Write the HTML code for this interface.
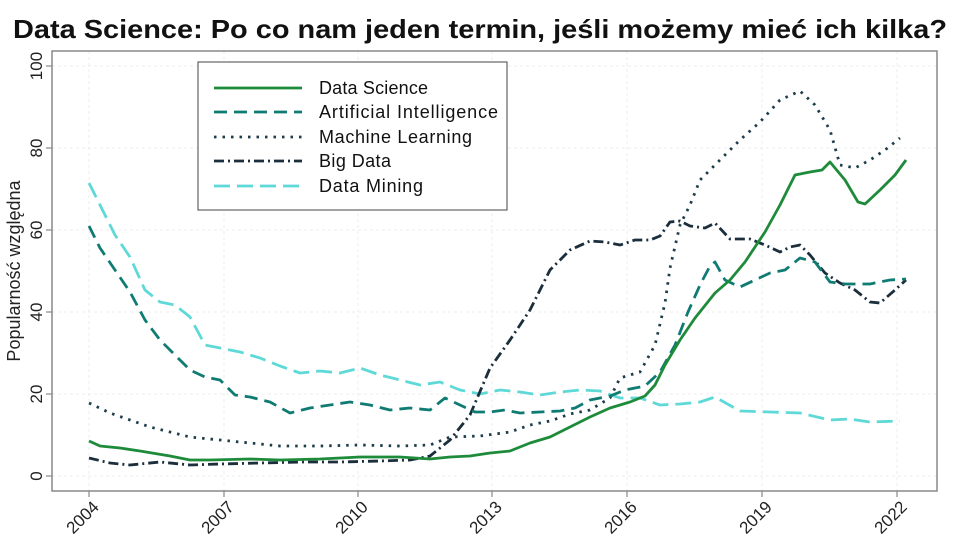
<!DOCTYPE html>
<html><head><meta charset="utf-8"><style>
body{margin:0;background:#fff;}
svg{display:block;font-family:"Liberation Sans",sans-serif;}
</style></head><body>
<svg width="959" height="548" viewBox="0 0 959 548">
<text x="13" y="38" font-size="26" font-weight="bold" fill="#111" textLength="934" lengthAdjust="spacingAndGlyphs">Data Science: Po co nam jeden termin, jeśli możemy mieć ich kilka?</text>
<g stroke="#ececec" stroke-dasharray="3,3" stroke-width="1">
<line x1="52" x2="937" y1="66" y2="66"/><line x1="52" x2="937" y1="148" y2="148"/><line x1="52" x2="937" y1="230" y2="230"/><line x1="52" x2="937" y1="312" y2="312"/><line x1="52" x2="937" y1="394" y2="394"/><line x1="52" x2="937" y1="476" y2="476"/>
<line x1="89" x2="89" y1="51" y2="491"/><line x1="224" x2="224" y1="51" y2="491"/><line x1="358" x2="358" y1="51" y2="491"/><line x1="492" x2="492" y1="51" y2="491"/><line x1="627" x2="627" y1="51" y2="491"/><line x1="762" x2="762" y1="51" y2="491"/><line x1="897" x2="897" y1="51" y2="491"/>
</g>
<rect x="52" y="51" width="885" height="440" fill="none" stroke="#888" stroke-width="1.5"/>
<g stroke="#888" stroke-width="1.2">
<line x1="46" x2="52" y1="66" y2="66"/><line x1="46" x2="52" y1="148" y2="148"/><line x1="46" x2="52" y1="230" y2="230"/><line x1="46" x2="52" y1="312" y2="312"/><line x1="46" x2="52" y1="394" y2="394"/><line x1="46" x2="52" y1="476" y2="476"/>
<line x1="89" x2="89" y1="491" y2="497"/><line x1="224" x2="224" y1="491" y2="497"/><line x1="358" x2="358" y1="491" y2="497"/><line x1="492" x2="492" y1="491" y2="497"/><line x1="627" x2="627" y1="491" y2="497"/><line x1="762" x2="762" y1="491" y2="497"/><line x1="897" x2="897" y1="491" y2="497"/>
</g>
<g font-size="17" fill="#222" text-anchor="middle">
<text transform="translate(42,66) rotate(-90)">100</text>
<text transform="translate(42,148) rotate(-90)">80</text>
<text transform="translate(42,230) rotate(-90)">60</text>
<text transform="translate(42,312) rotate(-90)">40</text>
<text transform="translate(42,394) rotate(-90)">20</text>
<text transform="translate(42,476) rotate(-90)">0</text>
</g>
<g font-size="17" fill="#222" text-anchor="end">
<text transform="translate(100,508) rotate(-45)">2004</text>
<text transform="translate(235,508) rotate(-45)">2007</text>
<text transform="translate(369,508) rotate(-45)">2010</text>
<text transform="translate(503,508) rotate(-45)">2013</text>
<text transform="translate(638,508) rotate(-45)">2016</text>
<text transform="translate(773,508) rotate(-45)">2019</text>
<text transform="translate(908,508) rotate(-45)">2022</text>
</g>
<text transform="translate(20,271) rotate(-90)" font-size="18" fill="#222" text-anchor="middle">Popularność względna</text>
<g fill="none" stroke-width="2.8" stroke-linejoin="round">
<polyline stroke="#5fd9d8" stroke-dasharray="16,7" points="89,183 100,205 115,235 130,257 145,290 160,302 175,305 190,317 205,345 220,348 240,352 260,358 280,366 300,373 320,371 340,373 360,368 380,375 400,380 420,385 440,382 460,390 480,394 500,390 520,392 540,395 560,392 580,390 600,391 620,398 640,398 660,405 680,404 700,402 715,397 740,411 770,412 800,413 830,420 850,419 870,422 900,421"/>
<polyline stroke="#1a2e3c" stroke-dasharray="10,4,2,4" points="89,458 110,463 130,465 160,462 190,465 220,464 260,463 300,462 340,462 380,461 410,460 430,456 450,440 470,415 490,368 510,340 530,310 550,270 570,250 590,241 605,242 620,245 635,240 650,240 660,236 670,222 680,221 690,226 705,228 715,223 730,239 750,239 765,245 780,252 790,247 800,245 810,255 825,273 840,283 855,290 870,302 880,303 895,290 906,280"/>
<polyline stroke="#1d3d4a" stroke-dasharray="2.5,6" points="89,403 110,413 130,420 150,427 170,432 190,437 220,440 250,443 280,446 320,446 360,445 400,446 430,445 450,437 480,436 510,432 530,425 550,421 570,414 590,410 610,398 620,378 640,372 655,345 665,303 670,268 680,225 690,205 700,180 720,160 740,140 760,122 780,100 800,91 815,105 830,130 840,165 855,168 870,160 885,150 900,138"/>
<polyline stroke="#0f7b73" stroke-dasharray="13,7" points="89,226 100,248 115,270 130,292 145,320 160,340 175,355 190,370 205,377 220,380 235,395 250,397 270,402 290,413 310,408 330,405 350,402 370,405 390,410 410,408 430,410 445,398 460,405 475,412 490,412 505,410 520,413 540,412 560,411 575,408 590,400 610,396 625,390 645,386 660,372 675,345 688,312 700,285 710,266 715,262 725,280 740,287 755,280 770,273 785,270 800,258 815,262 830,282 845,284 870,284 890,280 906,279"/>
<polyline stroke="#1e8b3a" points="89,441 100,446 120,448 140,451 170,456 190,460 210,460 250,459 280,460 320,459 360,457 400,457 430,459 450,457 470,456 490,453 510,451 530,443 550,437 570,427 590,417 610,408 630,402 645,396 655,385 665,365 680,340 695,318 715,293 730,280 745,262 765,232 780,205 795,175 810,172 822,170 830,162 845,180 858,202 865,204 880,190 895,175 906,160"/>
</g>
<rect x="198" y="62" width="309" height="148" fill="#fff" stroke="#444" stroke-width="1"/>
<g fill="none" stroke-width="2.8">
<line x1="214" x2="302" y1="88" y2="88" stroke="#1e8b3a"/>
<line x1="214" x2="302" y1="112" y2="112" stroke="#0f7b73" stroke-dasharray="13,7"/>
<line x1="214" x2="302" y1="137" y2="137" stroke="#1d3d4a" stroke-dasharray="2.5,6"/>
<line x1="214" x2="302" y1="161" y2="161" stroke="#1a2e3c" stroke-dasharray="10,4,2,4"/>
<line x1="214" x2="302" y1="186" y2="186" stroke="#5fd9d8" stroke-dasharray="16,7"/>
</g>
<g font-size="18" fill="#111" lengthAdjust="spacingAndGlyphs">
<text x="319" y="94" textLength="109">Data Science</text>
<text x="319" y="118" textLength="179">Artificial Intelligence</text>
<text x="319" y="143" textLength="153">Machine Learning</text>
<text x="319" y="167" textLength="72">Big Data</text>
<text x="319" y="192" textLength="104">Data Mining</text>
</g>
</svg>
</body></html>
